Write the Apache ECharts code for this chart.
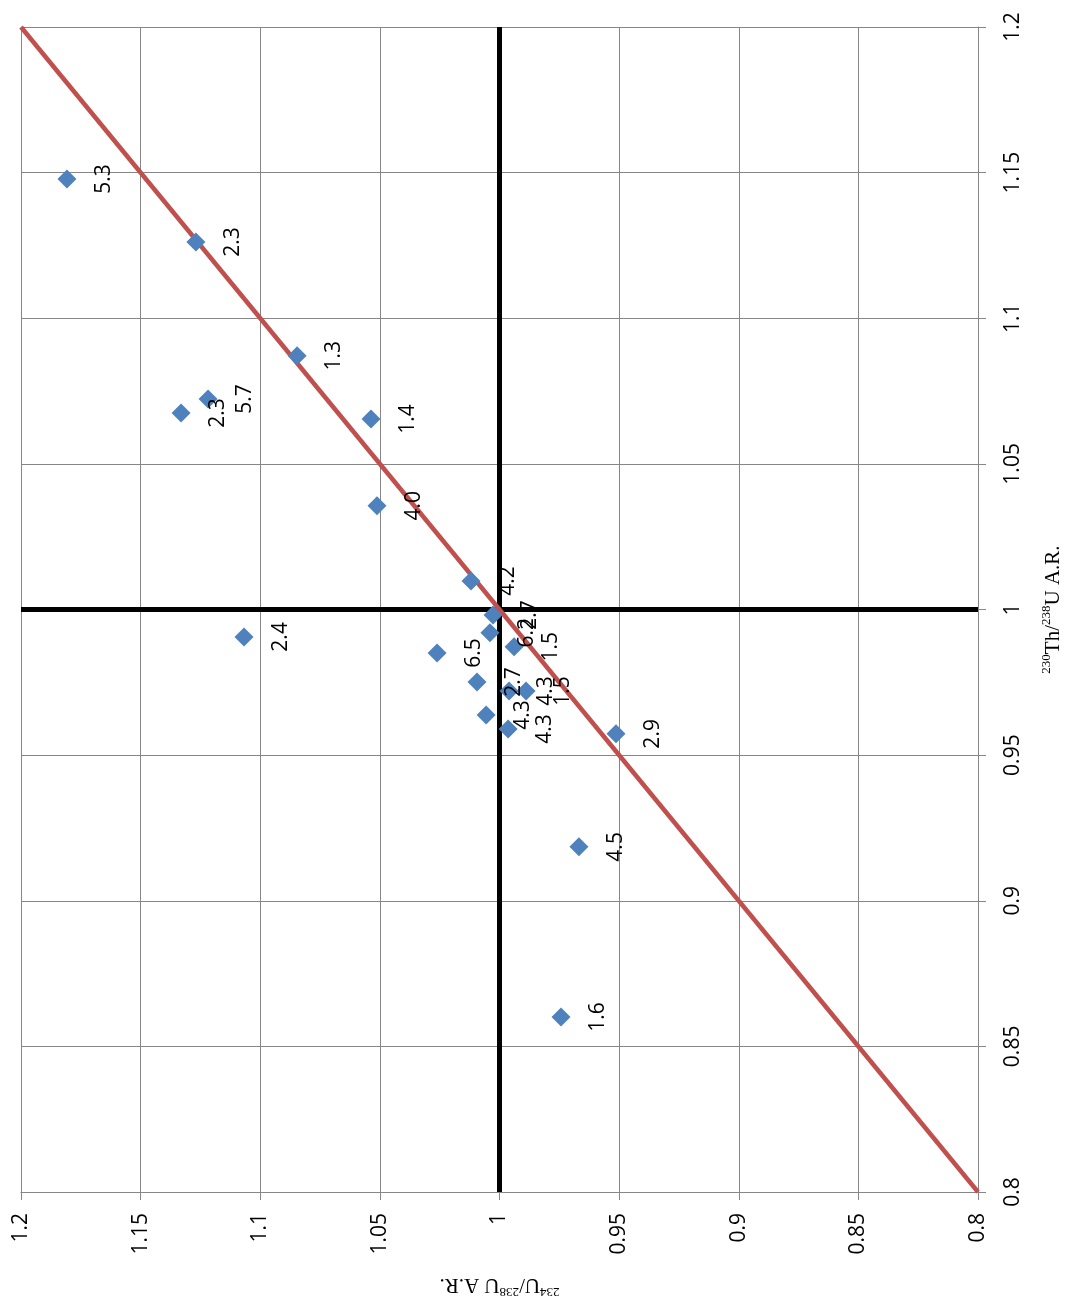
<!DOCTYPE html>
<html>
<head>
<meta charset="utf-8">
<script src="https://cdn.jsdelivr.net/npm/echarts@6/dist/echarts.min.js"></script>
<style>
  html, body { margin: 0; padding: 0; background: #ffffff; }
  #chart { width: 1065px; height: 1299px; }
</style>
</head>
<body>
<div id="chart"></div>
<script>
// 234U/238U activity ratio of each sample
const uRatio = [
  1.1808, 1.1269, 1.0846, 1.1218, 1.1331, 1.0537, 1.0512, 1.0119, 1.0027, 1.0040, 1.1068,
  0.9939, 1.0261, 1.0094, 0.9960, 0.9889, 1.0056, 0.9964, 0.9513, 0.9668, 0.9743
];
// 230Th/238U activity ratio of each sample
const thRatio = [
  1.1478, 1.1262, 1.0871, 1.0723, 1.0675, 1.0654, 1.0356, 1.0098, 0.9981, 0.9920, 0.9906,
  0.9872, 0.9851, 0.9751, 0.9720, 0.9720, 0.9638, 0.9590, 0.9573, 0.9185, 0.8601
];
// text written beside each sample
const sampleLabels = [
  '5.3', '2.3', '1.3', '5.7', '2.3', '1.4', '4.0', '4.2', '2.7', '6.2', '2.4',
  '1.5', '6.5', '2.7', '4.3', '1.5', '4.3', '4.3', '2.9', '4.5', '1.6'
];
// shared axis ticks
const tickLabels = ['0.8', '0.85', '0.9', '0.95', '1', '1.05', '1.1', '1.15', '1.2'];
const axisMin = 0.8;
const axisMax = 1.2;
const axisStep = 0.05;
// secular equilibrium
const equilibrium = 1;

const points = uRatio.map((u, i) => [u, thRatio[i], sampleLabels[i]]);

const gridColor = '#868686';
const sansFont = '"Open Sans", "Liberation Sans", sans-serif';
const serifFont = '"Liberation Serif", "DejaVu Serif", serif';

const tickFormatter = v => tickLabels[Math.round((v - axisMin) / axisStep)];

const nameRich = {
  s: { fontSize: 13, fontFamily: serifFont, color: '#000', verticalAlign: 'top', lineHeight: 24 },
  n: { fontSize: 21, fontFamily: serifFont, color: '#000', verticalAlign: 'bottom', lineHeight: 24 }
};

const baseAxis = {
  type: 'value',
  min: axisMin,
  max: axisMax,
  interval: axisStep,
  axisLine: { show: true, onZero: false, lineStyle: { color: gridColor, width: 1 } },
  axisTick: { show: true, length: 8, lineStyle: { color: gridColor, width: 1 } },
  splitLine: { show: true, lineStyle: { color: gridColor, width: 1 } },
  nameLocation: 'middle',
  nameTextStyle: { rich: nameRich }
};

const chart = echarts.init(document.getElementById('chart'), null, { renderer: 'canvas' });

chart.setOption({
  animation: false,
  backgroundColor: '#ffffff',
  grid: { left: 21, right: 87, top: 27, bottom: 107, containLabel: false, outerBoundsMode: 'none' },
  xAxis: Object.assign({}, baseAxis, {
    position: 'bottom',
    inverse: true,
    name: '{s|234}{n|U/}{s|238}{n|U A.R.}',
    nameRotate: 180,
    nameGap: 82,
    axisLabel: {
      rotate: 90, margin: 21, fontSize: 21, color: '#000', fontFamily: sansFont,
      formatter: tickFormatter
    }
  }),
  yAxis: Object.assign({}, baseAxis, {
    position: 'right',
    name: '{s|230}{n|Th/}{s|238}{n|U A.R.}',
    nameRotate: 90,
    nameGap: 62,
    axisLabel: {
      rotate: 90, margin: 25, fontSize: 21, color: '#000', fontFamily: sansFont,
      formatter: tickFormatter
    }
  }),
  series: [
    {
      type: 'line',
      data: [[equilibrium, axisMin], [equilibrium, axisMax]],
      symbol: 'none',
      silent: true,
      lineStyle: { color: '#000000', width: 5 },
      z: 2
    },
    {
      type: 'line',
      data: [[axisMin, equilibrium], [axisMax, equilibrium]],
      symbol: 'none',
      silent: true,
      lineStyle: { color: '#000000', width: 5 },
      z: 2
    },
    {
      type: 'line',
      data: [[axisMin, axisMin], [axisMax, axisMax]],
      symbol: 'none',
      silent: true,
      lineStyle: { color: '#C0504D', width: 4.5 },
      z: 3
    },
    {
      type: 'scatter',
      data: points,
      symbol: 'diamond',
      symbolSize: 19,
      itemStyle: { color: '#4F81BD', opacity: 1 },
      z: 4,
      label: {
        show: true,
        position: 'inside',
        rotate: 90,
        offset: [0, 37],
        fontSize: 21,
        color: '#000',
        fontFamily: sansFont,
        formatter: p => p.data[2]
      }
    }
  ]
});
</script>
</body>
</html>
